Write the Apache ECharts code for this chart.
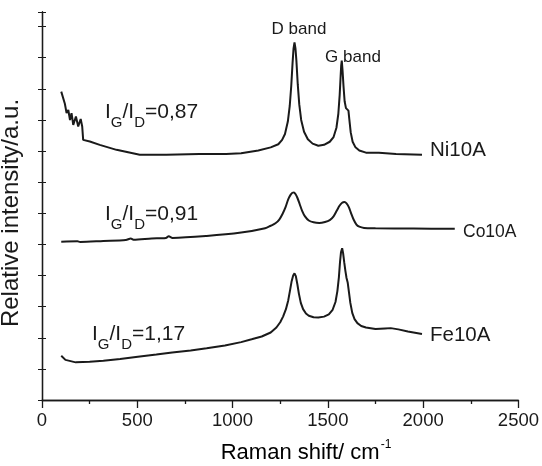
<!DOCTYPE html>
<html><head><meta charset="utf-8">
<script src="https://cdn.jsdelivr.net/npm/echarts@6/dist/echarts.min.js"></script>
<style>html,body{margin:0;padding:0;background:#fff}#c{width:542px;height:466px}</style>
</head><body><div id="c"></div>
<script>
// Raman shift (cm-1) vs relative intensity (a.u., vertically offset traces)
const ni10A = [[101,9.91],[108,9.86],[120,9.52],[129,9.22],[138,9.32],[147,9.00],[155,9.22],[164,8.84],[178,9.11],[190,8.79],[203,9.03],[211,8.79],[216,8.36],[251,8.31],[303,8.20],[391,8.04],[513,7.88],[652,7.88],[826,7.91],[966,7.91],[1045,7.93],[1135,8.02],[1200,8.12],[1240,8.22],[1260,8.36],[1275,8.55],[1290,8.95],[1300,9.45],[1308,10.1],[1315,10.85],[1320,11.3],[1325,11.49],[1330,11.3],[1335,10.9],[1342,10.15],[1350,9.5],[1360,9.0],[1375,8.62],[1395,8.38],[1420,8.24],[1450,8.17],[1480,8.2],[1510,8.3],[1530,8.45],[1545,8.75],[1555,9.2],[1562,9.8],[1567,10.4],[1570,10.75],[1573,10.91],[1577,10.6],[1582,10.1],[1588,9.6],[1595,9.38],[1603,9.35],[1608,9.3],[1613,9.0],[1620,8.6],[1630,8.3],[1645,8.12],[1665,8.02],[1700,7.95],[1768,7.95],[1858,7.91],[1994,7.88]];
const co10A = [[101,5.09],[186,5.10],[200,5.08],[322,5.11],[440,5.14],[466,5.19],[480,5.15],[575,5.19],[650,5.21],[665,5.26],[685,5.21],[864,5.27],[1045,5.38],[1171,5.52],[1200,5.6],[1225,5.68],[1245,5.8],[1262,5.98],[1278,6.2],[1292,6.45],[1305,6.6],[1314,6.66],[1322,6.67],[1330,6.62],[1340,6.5],[1352,6.3],[1365,6.08],[1380,5.9],[1400,5.77],[1425,5.71],[1455,5.69],[1485,5.72],[1510,5.78],[1530,5.9],[1548,6.1],[1562,6.25],[1575,6.34],[1587,6.36],[1598,6.32],[1610,6.2],[1622,6.0],[1635,5.8],[1650,5.64],[1665,5.57],[1690,5.53],[1750,5.52],[1949,5.51],[2166,5.50]];
const fe10A = [[101,1.42],[110,1.38],[123,1.29],[177,1.21],[250,1.23],[322,1.26],[410,1.32],[503,1.39],[600,1.46],[683,1.53],[780,1.59],[864,1.66],[960,1.75],[1045,1.86],[1100,1.95],[1153,2.04],[1200,2.17],[1230,2.33],[1250,2.50],[1265,2.68],[1280,2.92],[1292,3.2],[1302,3.54],[1310,3.82],[1318,4.0],[1325,4.07],[1332,3.98],[1340,3.72],[1348,3.42],[1358,3.12],[1370,2.92],[1385,2.78],[1400,2.71],[1425,2.66],[1450,2.65],[1480,2.68],[1505,2.75],[1525,2.9],[1540,3.15],[1550,3.5],[1558,3.95],[1564,4.45],[1569,4.75],[1575,4.88],[1580,4.72],[1586,4.42],[1592,4.15],[1598,3.92],[1604,3.78],[1610,3.5],[1618,3.12],[1628,2.8],[1640,2.6],[1655,2.47],[1675,2.38],[1700,2.33],[1750,2.28],[1800,2.3],[1830,2.31],[1870,2.27],[1920,2.2],[1994,2.12]];
const xMin = 0, xMax = 2500, xStep = 500;
const yMin = 0, yMax = 12.47, yStep = 1;
const ratios = ['0,87','0,91','1,17'];
const sampleNames = ['Ni10A','Co10A','Fe10A'];

const FONT = '"Liberation Sans", Arial, sans-serif';
const INK = '#1a1a1a';
const chart = echarts.init(document.getElementById('c'), null, {renderer:'canvas'});

function lineSeries(data, smooth){
  return {type:'line', data, showSymbol:false, smooth:smooth,
    lineStyle:{color:INK, width:2}, silent:true, animation:false, z:3};
}
const rich = {
  a:{fontSize:21, fontFamily:FONT, color:INK},
  b:{fontSize:15, fontFamily:FONT, color:INK, padding:[22,0,0,0]}
};
function ratioText(r){ return '{a|I}{b|G}{a|/I}{b|D}{a|=' + r + '}'; }
function txt(x,y,text,size,extra){
  return Object.assign({type:'text', x, y, silent:true, z:10,
    style:Object.assign({text, fontSize:size, fontFamily:FONT, fill:INK, verticalAlign:'middle'}, extra||{})});
}

chart.setOption({
  animation:false,
  backgroundColor:'#fff',
  grid:{left:42, right:22, top:12, bottom:66},
  xAxis:[
    {type:'value', min:xMin, max:xMax, interval:xStep, position:'bottom',
      axisLine:{lineStyle:{color:INK, width:1.3}},
      axisTick:{inside:false, length:8, lineStyle:{color:INK, width:1.3}},
      minorTick:{show:true, splitNumber:2, length:4, lineStyle:{color:INK, width:1.3}},
      axisLabel:{fontSize:18.5, fontFamily:FONT, color:INK, margin:11, formatter:v => String(v)},
      splitLine:{show:false}},
    {type:'value', min:xMin, max:xMax, interval:xStep, position:'top',
      axisLine:{show:true, lineStyle:{color:INK, width:1.3}},
      axisTick:{show:true, inside:true, length:4, lineStyle:{color:INK, width:1}},
      minorTick:{show:true, splitNumber:2, length:3, lineStyle:{color:INK, width:1}},
      axisLabel:{show:false}, splitLine:{show:false}}
  ],
  yAxis:[
    {type:'value', min:yMin, max:yMax, interval:yStep, position:'left',
      axisLine:{show:true, lineStyle:{color:INK, width:1.3}},
      axisTick:{show:true, inside:true, length:4, lineStyle:{color:INK, width:1}},
      axisLabel:{show:false}, splitLine:{show:false}},
    {type:'value', min:yMin, max:yMax, interval:yStep, position:'right',
      axisLine:{show:true, lineStyle:{color:INK, width:1.3}},
      axisTick:{show:true, inside:true, length:4, lineStyle:{color:INK, width:1}},
      axisLabel:{show:false}, splitLine:{show:false}}
  ],
  series:[lineSeries(ni10A, false), lineSeries(co10A, 0.3), lineSeries(fe10A, false)],
  graphic:[
    txt(105,112,ratioText(ratios[0]),21,{rich}),
    txt(105,214,ratioText(ratios[1]),21,{rich}),
    txt(92,334,ratioText(ratios[2]),21,{rich}),
    txt(299,29,'D band',17,{align:'center'}),
    txt(353,57,'G band',17,{align:'center'}),
    txt(430,150,sampleNames[0],20.5),
    txt(463,232,sampleNames[1],17.5),
    txt(430,335,sampleNames[2],20.5),
    {type:'text', x:11, y:213, rotation:Math.PI/2, silent:true,
      style:{text:'Relative intensity/a.u.', fontSize:24, fontFamily:FONT, fill:INK, align:'center', verticalAlign:'middle'}},
    {type:'text', x:306, y:453, silent:true,
      style:{text:'{a|Raman shift/ cm}{p|-1}', align:'center', verticalAlign:'middle',
        rich:{a:{fontSize:22, fontFamily:FONT, color:INK}, p:{fontSize:12, fontFamily:FONT, color:INK, padding:[0,0,16,1]}}}}
  ]
});
</script></body></html>
